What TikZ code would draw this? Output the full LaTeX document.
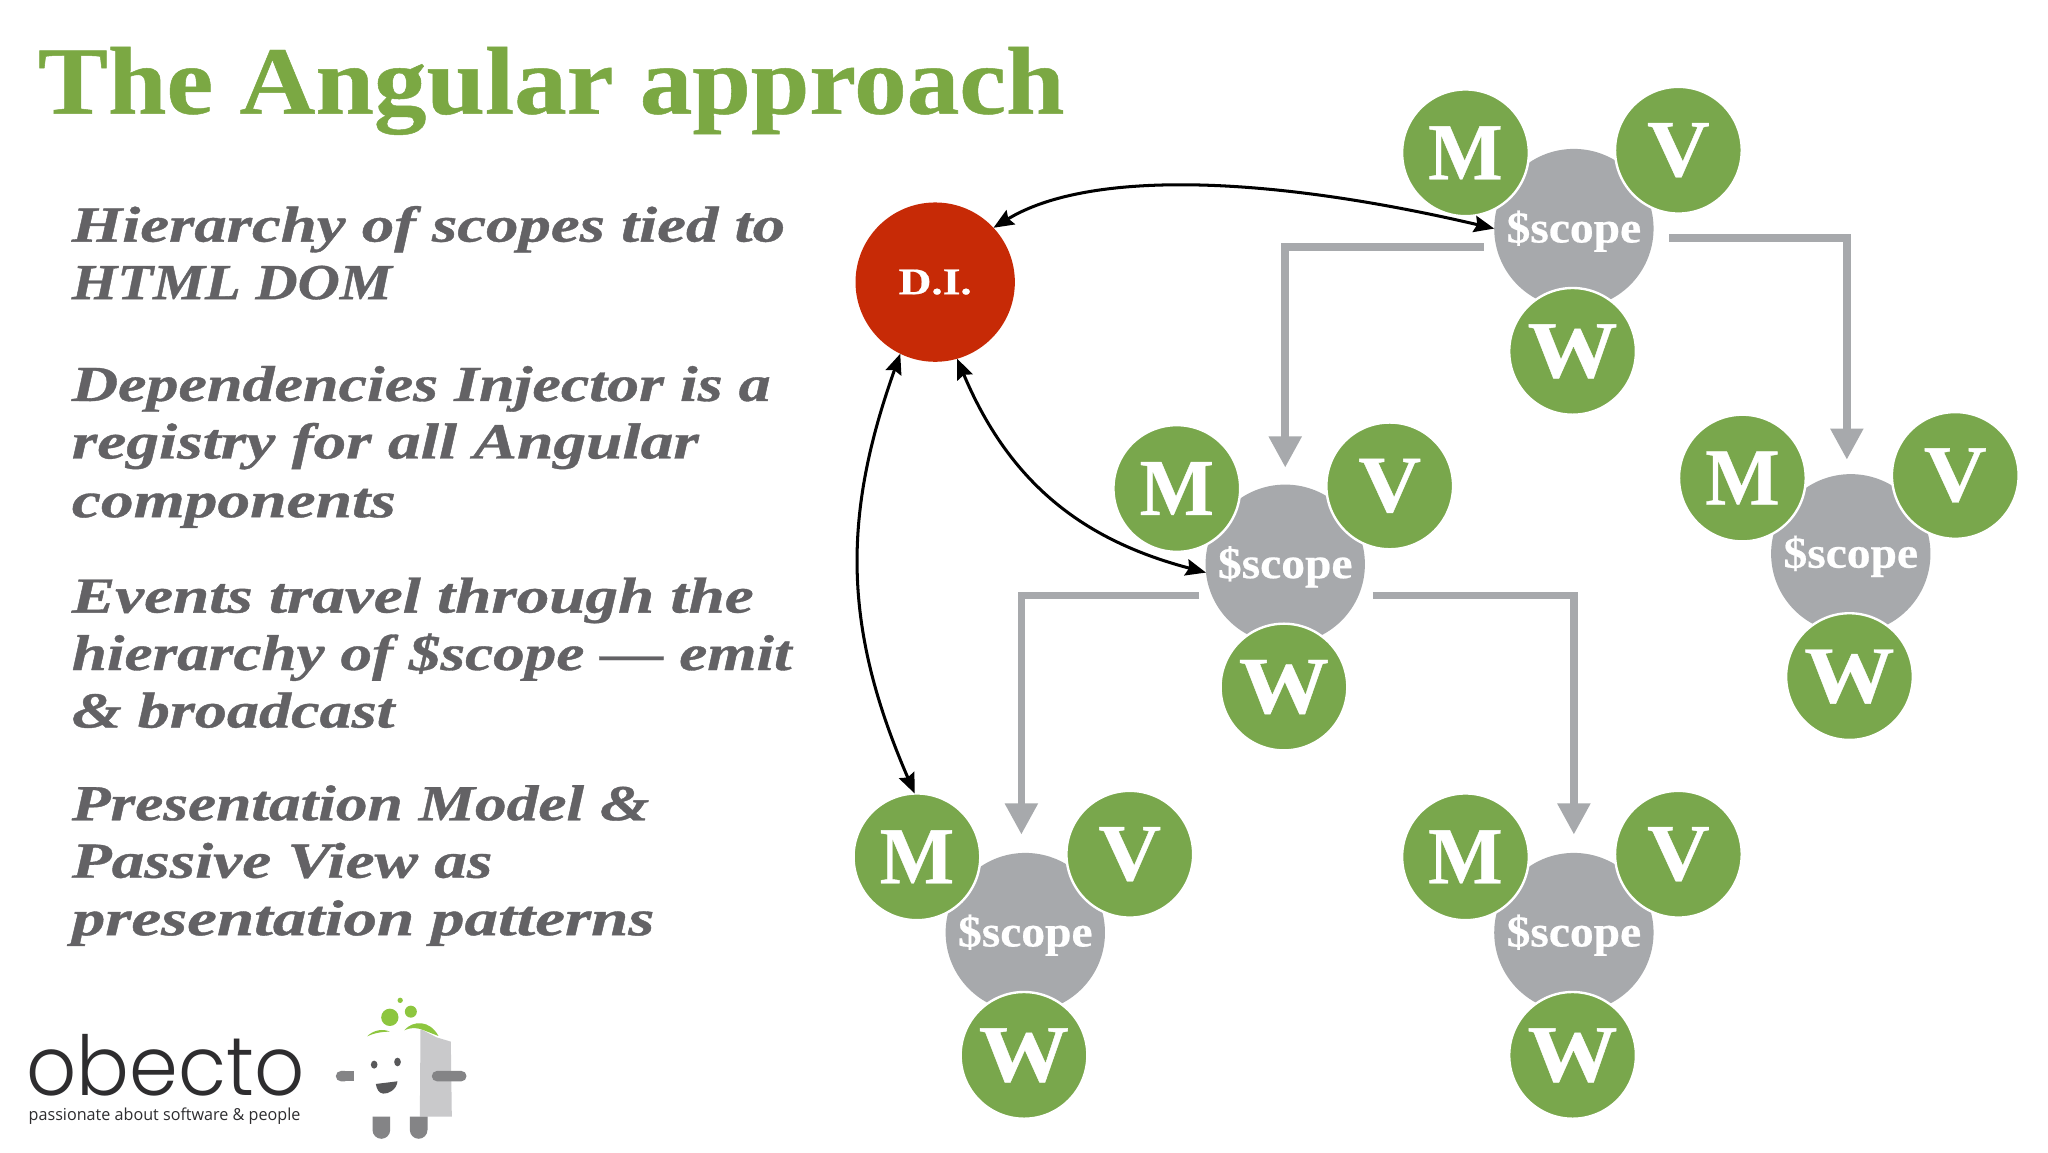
\documentclass[tikz,border=0pt]{standalone}
\usepackage{fontspec}
\usepackage{graphicx}
\setmainfont{Liberation Serif}[BoldFeatures={FakeBold=0.5},BoldItalicFeatures={FakeBold=0.7}]
\newfontfamily\logofont{Poppins Light}
\newfontfamily\tagfont{Open Sans}
\usetikzlibrary{arrows.meta}
\definecolor{leaf}{HTML}{79A74C}
\definecolor{titlegreen}{HTML}{7BA843}
\definecolor{scopegray}{HTML}{A7A9AC}
\definecolor{injred}{HTML}{C72A06}
\definecolor{bodytext}{HTML}{636265}
\definecolor{logoink}{HTML}{2E2D2F}
\definecolor{logogreen}{HTML}{8DC63F}
\definecolor{logobody}{HTML}{C9C9CB}
\definecolor{logolimb}{HTML}{848486}
\definecolor{logoface}{HTML}{58585A}
\newlength{\dpx}\setlength{\dpx}{0.05cm}
\newcommand{\fitw}[2]{\resizebox{#1\dpx}{\height}{#2}}
\newcommand{\lowertext}[1]{\raisebox{-2\dpx}[\height][\depth]{#1}}
\tikzset{
  base/.style={circle,inner sep=0pt,outer sep=0pt,align=center},
  mvw/.style={base,minimum size=97\dpx,fill=leaf,draw=white,line width=2.6pt,text=white,font=\bfseries\fontsize{88}{88}\selectfont},
  scopec/.style={base,minimum size=122\dpx,fill=scopegray,text=white,font=\bfseries\fontsize{48}{48}\selectfont},
  inj/.style={base,minimum size=122\dpx,fill=injred,text=white,font=\bfseries\fontsize{41}{41}\selectfont},
  bodyline/.style={anchor=base west,inner sep=0pt,outer sep=0pt,text=bodytext,font=\bfseries\itshape\fontsize{55}{55}\selectfont},
  titleline/.style={anchor=base west,inner sep=0pt,outer sep=0pt,text=titlegreen,font=\bfseries\fontsize{105}{105}\selectfont},
  grayarrow/.style={draw=scopegray,line width=8.3pt,-{Triangle[length=34pt,width=34pt]}},
  blackarrow/.style={draw=black,line width=3.3pt,{Stealth[length=22pt,width=18pt,inset=3pt]}-{Stealth[length=22pt,width=18pt,inset=3pt]}},
  logotext/.style={anchor=base west,inner sep=0pt,outer sep=0pt},
}
\newcommand{\trio}[3]{%
  \node[scopec] (s#1) at (#2,#3) {\lowertext{\fitw{103}{\$scope}}};
  \node[mvw] (m#1) at (#2-83,#3-58) {\fitw{57}{M}};
  \node[mvw] (v#1) at (#2+80,#3-60) {\fitw{48}{V}};
  \node[mvw] (w#1) at (#2-1,#3+94) {\fitw{69}{W}};
}
\begin{document}
\begin{tikzpicture}[x=1\dpx,y=-1\dpx]
\useasboundingbox (0,0) rectangle (1568,882);
\fill[white] (0,0) rectangle (1568,882);
\node[titleline] (title) at (29,87) {\fitw{786}{The Angular approach}};
\node[bodyline] (l1) at (55,185) {\fitw{546}{Hierarchy of scopes tied to}};
\node[bodyline] (l2) at (55,229) {\fitw{245}{HTML DOM}};
\node[bodyline] (l3) at (55,307) {\fitw{535}{Dependencies Injector is a}};
\node[bodyline] (l4) at (55,351) {\fitw{480}{registry for all Angular}};
\node[bodyline] (l5) at (55,396) {\fitw{248}{components}};
\node[bodyline] (l6) at (55,469) {\fitw{522}{Events travel through the}};
\node[bodyline] (l7) at (55,513) {\fitw{551}{hierarchy of \$scope — emit}};
\node[bodyline] (l8) at (55,557) {\fitw{247}{\& broadcast}};
\node[bodyline] (l9) at (55,628) {\fitw{442}{Presentation Model \&}};
\node[bodyline] (l10) at (55,672) {\fitw{322}{Passive View as}};
\node[bodyline] (l11) at (55,716) {\fitw{446}{presentation patterns}};

\trio{1}{1205}{175}
\trio{2}{984}{432}
\trio{3}{1417}{424}
\trio{4}{785}{714}
\trio{5}{1205}{714}
\node[inj] (di) at (716,216) {\fitw{56}{D.I.}};

\draw[grayarrow] ([shift={(-8,14)}]s1.west) -| ([shift={(0,-13)}]s2.north);
\draw[grayarrow] ([shift={(134,7)}]s1.west) -| ([shift={(-3,-11)}]s3.north);
\draw[grayarrow] ([shift={(-5,24)}]s2.west) -| ([shift={(-3,-14)}]s4.north);
\draw[grayarrow] ([shift={(128,24)}]s2.west) -| ([shift={(0,-14)}]s5.north);

\draw[blackarrow] (di.43) .. controls (830,132) and (960,132) .. (s1.west);
\draw[blackarrow] (di.244) .. controls (645,395) and (645,480) .. (m4.92);
\draw[blackarrow] (di.286) .. controls (775,375) and (835,415) .. (s2.186);

% logo
\node[logotext,text=logoink] (wordmark) at (20,839) {\fitw{213}{\logofont\fontsize{90}{90}\selectfont obecto}};
\node[logotext,text=logoink] (tagline) at (22,857.5) {\fitw{208}{\tagfont\fontsize{18}{18}\selectfont passionate about software \& people}};
\begin{scope}[shift={(0,735)},x=0.01276cm,y=-0.01276cm]
  \fill[logobody] (1262,207) -- (1310,232) -- (1353,245) -- (1356,470) -- (1260,470) -- cycle;
  \fill[logogreen] (1170,172) circle[radius=26];
  \fill[logogreen] (1233,155) circle[radius=18];
  \fill[logogreen] (1201,121) circle[radius=8];
  \fill[logogreen] (1102,229) .. controls (1120,210) and (1150,205) .. (1170,215) .. controls (1145,215) and (1120,220) .. (1102,229) -- cycle;
  \fill[logogreen] (1213,211) .. controls (1240,180) and (1290,180) .. (1316,228) -- (1262,207) .. controls (1245,203) and (1230,203) .. (1213,211) -- cycle;
  \fill[logoface] (1123,314) ellipse[x radius=10,y radius=12];
  \fill[logoface] (1193,306) ellipse[x radius=10,y radius=13];
  \fill[logoface] (1128,372) -- (1193,364) .. controls (1190,390) and (1165,402) .. (1150,401) .. controls (1138,400) and (1130,388) .. (1128,372) -- cycle;
  \fill[logolimb,rounded corners=5.5pt] (1008,333) rectangle (1050,364);
  \fill[logolimb] (1062,333) rectangle (1030,364);
  \fill[logolimb,rounded corners=5.5pt] (1296,333) rectangle (1400,364);
  \fill[logolimb] (1118,470) -- (1171,470) -- (1171,510) arc[start angle=0,end angle=180,radius=26.5] -- cycle;
  \fill[logolimb] (1230,470) -- (1283,470) -- (1283,510) arc[start angle=0,end angle=180,radius=26.5] -- cycle;
\end{scope}
\end{tikzpicture}
\end{document}
